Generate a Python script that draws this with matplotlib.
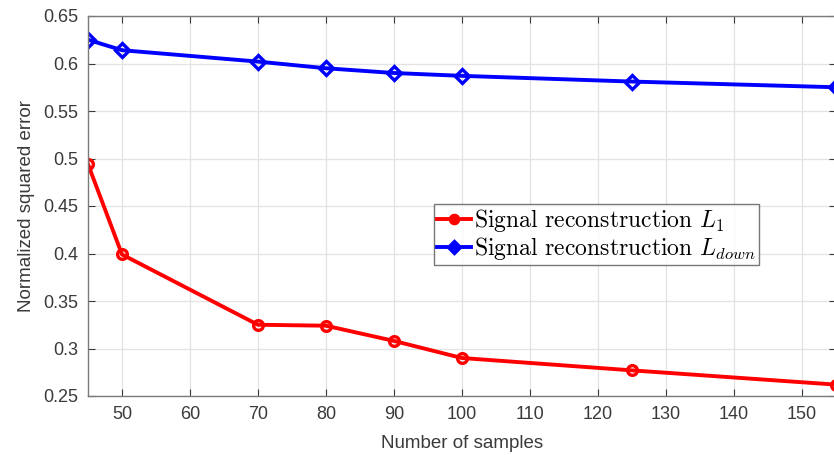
import numpy as np
import matplotlib
matplotlib.use('Agg')
import matplotlib.pyplot as plt

samples = [45, 50, 70, 80, 90, 100, 125, 155]
err_l1 = [0.494, 0.399, 0.325, 0.324, 0.308, 0.290, 0.277, 0.262]
err_down = [0.625, 0.614, 0.602, 0.595, 0.590, 0.587, 0.581, 0.575]
xticks = list(range(50, 151, 10))
yticks = [0.25, 0.3, 0.35, 0.4, 0.45, 0.5, 0.55, 0.6, 0.65]
ytick_labels = ['0.25', '0.3', '0.35', '0.4', '0.45', '0.5', '0.55', '0.6', '0.65']

plt.rcParams['font.family'] = ['Liberation Sans', 'DejaVu Sans']
plt.rcParams['mathtext.fontset'] = 'cm'

fig = plt.figure(figsize=(8.34, 4.55), dpi=100)
ax = fig.add_axes([88/834, 59/455, 1 - 88/834 + 0.002, 380/455])

ax.plot(samples, err_l1, color='#ff0000', lw=2.8, marker='o', ms=7, mfc='none', mew=2.4,
        label=r'Signal reconstruction $L_1$')
ax.plot(samples, err_down, color='#0000ff', lw=2.8, marker='D', ms=7, mfc='none', mew=2.4,
        label=r'Signal reconstruction $L_{down}$')

ax.set_xlim(45, 155)
ax.set_ylim(0.25, 0.65)
ax.set_xticks(xticks)
ax.set_yticks(yticks)
ax.set_yticklabels(ytick_labels)
ax.grid(True, color='#e3e3e3', lw=0.9)
ax.set_axisbelow(True)
ax.tick_params(direction='in', top=True, right=True, length=5, labelsize=13,
               colors='#3a3a3a', pad=7)
for s in ax.spines.values():
    s.set_color('#7a7a7a')
    s.set_linewidth(1.0)

ax.set_xlabel('Number of samples', fontsize=13.5, color='#3a3a3a', labelpad=9)
ax.set_ylabel('Normalized squared error', fontsize=13.5, color='#3a3a3a', labelpad=6)

leg = ax.legend(loc='upper left', prop={'family': 'cmr10', 'size': 17}, frameon=True,
                fancybox=False, handlelength=1.45, handletextpad=0.15, borderpad=0.12,
                labelspacing=0.05, borderaxespad=0, markerscale=0.85)
leg.set_bbox_to_anchor(((433 - 88) / (834 - 88), (455 - 204 - 59) / 380), transform=ax.transAxes)
leg.get_frame().set_edgecolor('#555555')
leg.get_frame().set_linewidth(1.0)
for h in leg.legend_handles:
    h.set_markerfacecolor(h.get_color())

fig.savefig('out.png', dpi=100)
